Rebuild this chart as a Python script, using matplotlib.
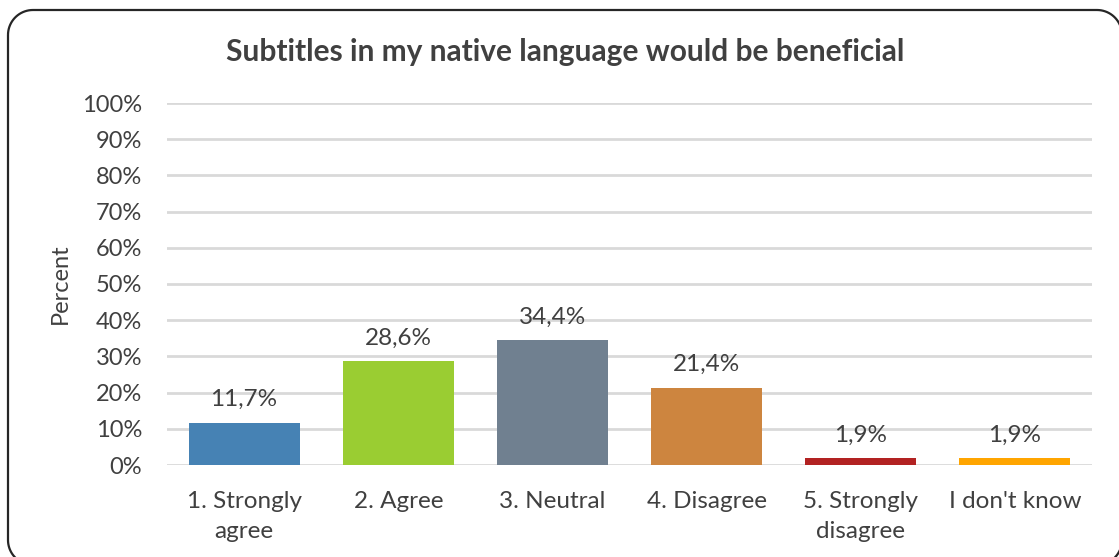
import matplotlib.pyplot as plt
from matplotlib.patches import Polygon
from matplotlib.ticker import FuncFormatter
import numpy as np

plt.rcParams['font.family'] = ['Lato', 'DejaVu Sans']

categories = ['1. Strongly\nagree', '2. Agree', '3. Neutral', '4. Disagree',
              '5. Strongly\ndisagree', "I don't know"]
values = [11.7, 28.6, 34.4, 21.4, 1.9, 1.9]
colors = ['#4682B4', '#9ACD32', '#708090', '#CD853F', '#B22222', '#FFA500']
text_col = '#404040'

W, H = 1119, 557
fig = plt.figure(figsize=(W / 100, H / 100), dpi=100)

# rounded frame outline in pixels (y from top), cut off at right and bottom
left, top, right, bottom, r = 8, 10, 1122, 565, 25
t = np.linspace(0, np.pi / 2, 20)
pts = np.concatenate([
    np.c_[left + r - r * np.cos(t), top + r - r * np.sin(t)],            # top-left
    np.c_[right - r + r * np.sin(t), top + r - r * np.cos(t)],           # top-right
    np.c_[right - r + r * np.cos(t), bottom - r + r * np.sin(t)],        # bottom-right
    np.c_[left + r - r * np.sin(t), bottom - r + r * np.cos(t)],         # bottom-left
])
frame = Polygon(np.c_[pts[:, 0] / W, 1 - pts[:, 1] / H], closed=True,
                transform=fig.transFigure, fill=False,
                edgecolor='#262626', linewidth=1.6)
fig.patches.append(frame)

ax = fig.add_axes([167 / W, 1 - 465 / H, (1092 - 167) / W, (465 - 103) / H])
x = np.arange(len(categories))
ax.bar(x, values, width=0.72, color=colors, zorder=3)

for i, v in enumerate(values):
    ax.annotate(f"{v:.1f}%".replace('.', ','), (i, v), xytext=(0, 9),
                textcoords='offset points', ha='center', va='bottom',
                fontsize=17.5, color=text_col)

ax.set_xlim(-0.5, len(categories) - 0.5)
ax.set_ylim(0, 100)
ax.set_yticks(np.arange(0, 101, 10))
ax.yaxis.set_major_formatter(FuncFormatter(lambda v, p: f"{int(v)}%"))
ax.set_xticks(x)
ax.set_xticklabels(categories, linespacing=1.5)
ax.tick_params(axis='y', length=0, pad=18, labelsize=17, labelcolor=text_col)
ax.tick_params(axis='x', length=0, pad=19, labelsize=17.5, labelcolor=text_col)
ax.grid(axis='y', color='#d9d9d9', linewidth=2, zorder=0)
for s in ax.spines.values():
    s.set_visible(False)

ax.set_ylabel('Percent', fontsize=17, color=text_col, labelpad=8)
fig.text(0.505, 1 - 52 / H, 'Subtitles in my native language would be beneficial',
         ha='center', va='center', fontsize=21.5, fontweight='bold', color=text_col)

fig.savefig('out.png', dpi=100)
